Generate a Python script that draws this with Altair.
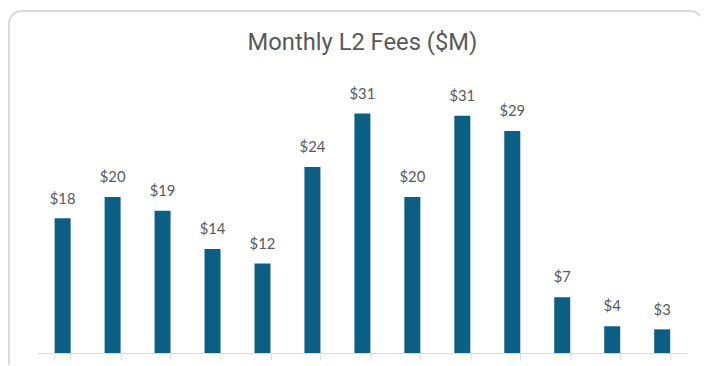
import altair as alt
import pandas as pd

months = ["Jan", "Feb", "Mar", "Apr", "May", "Jun", "Jul",
          "Aug", "Sep", "Oct", "Nov", "Dec", "Jan "]
fees = [17.6, 20.4, 18.6, 13.6, 11.7, 24.3, 31.3, 20.4, 31.0, 29.0, 7.3, 3.5, 3.1]

df = pd.DataFrame({"month": months, "fees": fees})

W, H = 657, 271

x = alt.X("month:N", sort=None,
          scale=alt.Scale(paddingInner=0.68, paddingOuter=0.34),
          axis=alt.Axis(title=None, labels=False, domainColor="#d9d9d9",
                        tickColor="#d9d9d9", tickSize=7, tickBand="extent",
                        domainWidth=1, tickWidth=1))
y = alt.Y("fees:Q", scale=alt.Scale(domain=[0, 35], nice=False), axis=None)

frame = alt.Chart(pd.DataFrame({"f": [0]})).mark_rect(
    fill=None, stroke="#dadada", strokeWidth=2, cornerRadius=13, clip=False
).encode(
    x=alt.value(-29), x2=alt.value(673), y=alt.value(-75), y2=alt.value(330)
)

bars = alt.Chart(df).mark_bar(color="#0b5f84").encode(x=x, y=y)

labels = alt.Chart(df).mark_text(
    font="Lato", fontSize=15, color="#595959", dy=-15, baseline="alphabetic"
).encode(x=x, y=y, text=alt.Text("fees:Q", format="$.0f"))

chart = alt.layer(frame, bars, labels).properties(
    width=W, height=H,
    title=alt.TitleParams("Monthly L2 Fees ($M)", font="Roboto", fontSize=24,
                          fontWeight="normal", color="#595959",
                          anchor="middle", frame="group", offset=-45),
    autosize=alt.AutoSizeParams(type="none"),
    padding={"left": 30, "top": 76, "right": 13, "bottom": 10},
).configure_view(stroke=None)

chart.save("out.html", embed_options={"renderer": "svg", "actions": False})
